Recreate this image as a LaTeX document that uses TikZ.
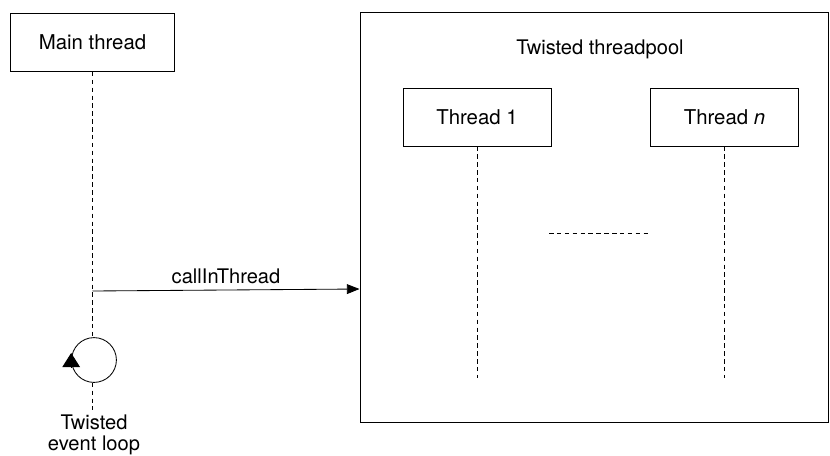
\documentclass[tikz,border=0pt]{standalone}
\usepackage{fontspec}
\setmainfont{TeX Gyre Heros}
\usetikzlibrary{arrows.meta}
\tikzset{
  box/.style={draw, line width=0.6pt, minimum width=4.1cm, minimum height=1.45cm, font=\fontsize{14.5}{17}\selectfont},
  life/.style={line width=0.6pt, dash pattern=on 3.2pt off 2.4pt},
  lbl/.style={font=\fontsize{14.3}{16}\selectfont, align=center}
}
\begin{document}
\begin{tikzpicture}[x=0.025cm, y=-0.025cm]
  \useasboundingbox (0,0) rectangle (830,455);
  % main thread
  \node[box] (main) at (92.5,42.5) {Main thread};
  \node[draw, circle, line width=0.6pt, minimum size=1.12cm, inner sep=0pt] (loop) at (94,360) {};
  \node[lbl, anchor=north] (evt) at (94,410) {Twisted\\[-1pt]event loop};
  \draw[life] (main.south) -- (main.south |- loop.north);
  \draw[life] (main.south |- loop.south) -- (main.south |- evt.north);
  \draw[-{Triangle[length=10pt, width=12.5pt]}, line width=0.6pt] ([yshift=-5pt]loop.west) -- ([yshift=5pt]loop.west);
  % threadpool
  \node[draw, line width=0.6pt, minimum width=11.7cm, minimum height=10.25cm] (pool) at (594,217) {};
  \node[lbl] (title) at (600,49) {Twisted threadpool};
  \node[box, minimum width=3.7cm] (t1) at (477,117) {Thread 1};
  \node[box, minimum width=3.7cm] (tn) at (724.5,117) {Thread \textit{n}};
  \coordinate (t1end) at (477,378);
  \coordinate (tnend) at (724.5,378);
  \draw[life] (t1.south) -- (t1end);
  \draw[life] (tn.south) -- (tnend);
  \coordinate (gapl) at (549,233);
  \coordinate (gapr) at (650,233);
  \draw[life] (gapl) -- (gapr);
  % call
  \coordinate (call) at (92.5,291);
  \draw[-{Triangle[length=9pt, width=7pt]}, line width=0.6pt] (call) -- (pool.west |- 0,289) node[lbl, midway, above=1pt] {callInThread};
\end{tikzpicture}
\end{document}
